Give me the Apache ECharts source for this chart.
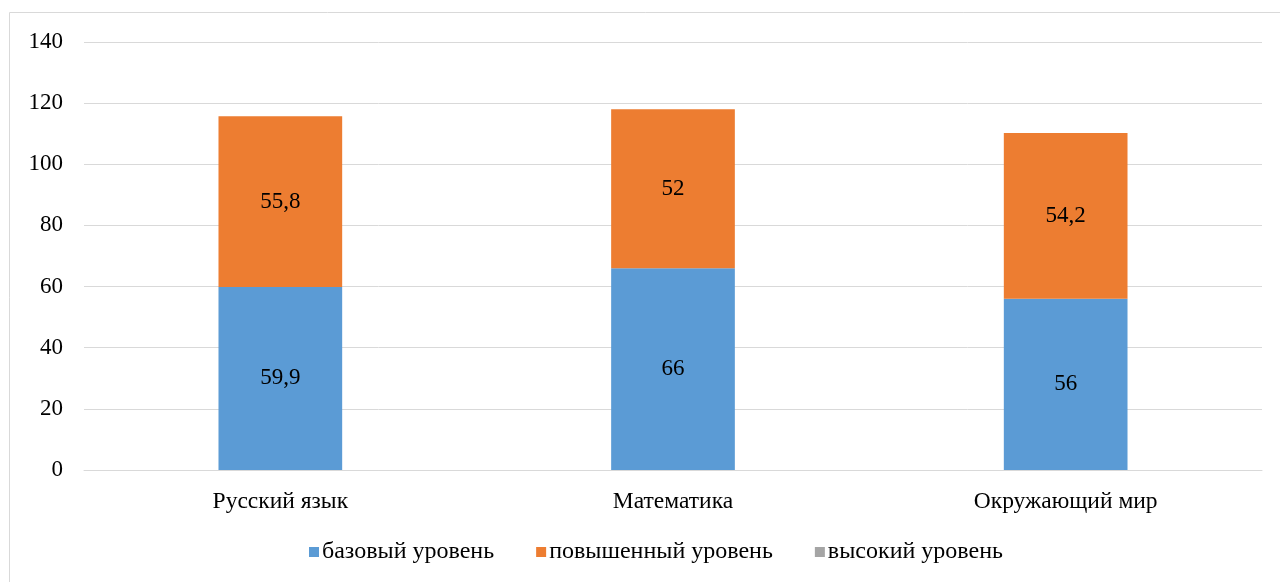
<!DOCTYPE html>
<html>
<head>
<meta charset="utf-8">
<script src="https://cdn.jsdelivr.net/npm/echarts@6/dist/echarts.min.js"></script>
<style>
  html, body { margin: 0; padding: 0; background: #fff; }
  #chart { width: 1280px; height: 582px; }
</style>
</head>
<body>
<div id="chart"></div>
<script>
  // данные диаграммы
  const categories = ['Русский язык', 'Математика', 'Окружающий мир'];
  const seriesNames = ['базовый уровень', 'повышенный уровень', 'высокий уровень'];
  const baseValues = [59.9, 66, 56];
  const advancedValues = [55.8, 52, 54.2];
  const highValues = [null, null, null];
  const colors = ['#5b9bd5', '#ed7d31', '#a5a5a5'];

  const font = '"Liberation Serif", "Times New Roman", serif';
  const fmt = p => String(p.value).replace('.', ',');

  let chart = echarts.init(document.getElementById('chart'));
  chart.setOption({
    animation: false,
    color: colors,
    textStyle: { fontFamily: font },
    graphic: [{
      type: 'rect',
      shape: { x: 9.5, y: 12.5, width: 1300, height: 600 },
      style: { fill: 'none', stroke: '#d9d9d9', lineWidth: 1 },
      silent: true
    }],
    grid: { left: 84, right: 18, top: 42, bottom: 112 },
    legend: {
      left: 309,
      top: 540,
      padding: 0,
      itemWidth: 10,
      itemHeight: 10,
      itemGap: 42,
      icon: 'rect',
      textStyle: { fontFamily: font, fontSize: 24, color: '#000', padding: [0, 0, 0, -2] },
      data: seriesNames
    },
    xAxis: {
      type: 'category',
      data: categories,
      axisLine: { lineStyle: { color: '#d9d9d9', width: 1 } },
      axisTick: { show: false },
      axisLabel: { fontFamily: font, fontSize: 23.5, color: '#000', margin: 20 }
    },
    yAxis: {
      type: 'value',
      min: 0,
      max: 140,
      interval: 20,
      axisLine: { show: false },
      axisTick: { show: false },
      splitLine: { lineStyle: { color: '#d9d9d9', width: 1 } },
      axisLabel: { fontFamily: font, fontSize: 23, color: '#000', margin: 21 }
    },
    series: [
      {
        name: seriesNames[0], type: 'bar', stack: 'total', barWidth: '31.5%',
        data: baseValues,
        label: { show: true, position: 'inside', fontFamily: font, fontSize: 23, color: '#000', formatter: fmt }
      },
      {
        name: seriesNames[1], type: 'bar', stack: 'total', barWidth: '31.5%',
        data: advancedValues,
        label: { show: true, position: 'inside', fontFamily: font, fontSize: 23, color: '#000', formatter: fmt }
      },
      {
        name: seriesNames[2], type: 'bar', stack: 'total', barWidth: '31.5%',
        data: highValues,
        label: { show: false }
      }
    ]
  });
</script>
</body>
</html>
